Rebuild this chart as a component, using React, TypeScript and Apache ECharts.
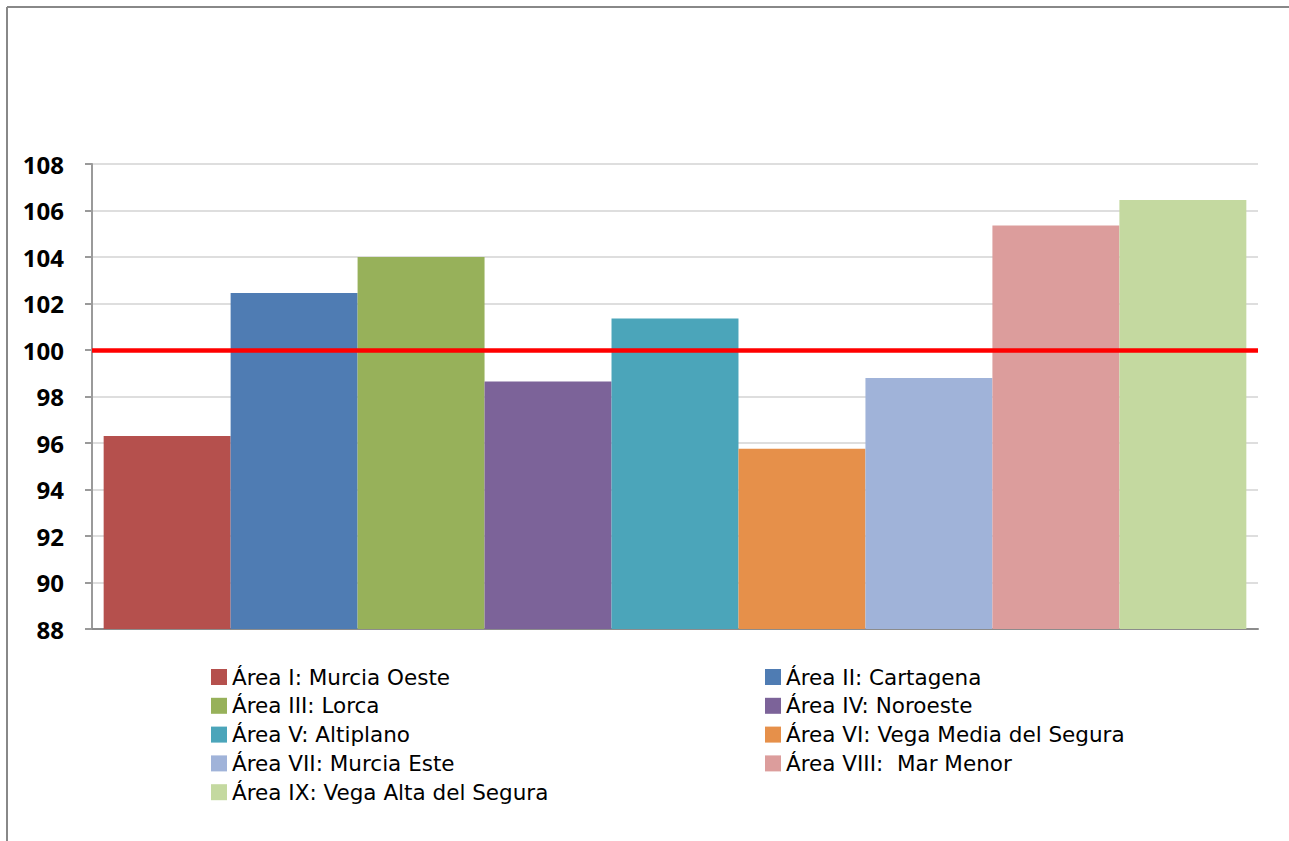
import React, { useEffect, useRef } from "react";
import * as echarts from "echarts";

const seriesNames = [
  "Área I: Murcia Oeste",
  "Área II: Cartagena",
  "Área III: Lorca",
  "Área IV: Noroeste",
  "Área V: Altiplano",
  "Área VI: Vega Media del Segura",
  "Área VII: Murcia Este",
  "Área VIII:  Mar Menor",
  "Área IX: Vega Alta del Segura",
];
const seriesValues = [96.3, 102.45, 104.0, 98.65, 101.35, 95.75, 98.8, 105.35, 106.45];
const seriesColors = [
  "#B5504D",
  "#4F7CB3",
  "#97B15A",
  "#7C6399",
  "#4BA5BA",
  "#E6904A",
  "#A0B3D9",
  "#DC9D9C",
  "#C4D9A0",
];
const categories = [""];
const referenceValue = 100;
const yMin = 88;
const yMax = 108;
const yStep = 2;

const leftLegend = [0, 2, 4, 6, 8].map((i) => seriesNames[i]);
const rightLegend = [1, 3, 5, 7].map((i) => seriesNames[i]);

export default function App() {
  const ref = useRef<HTMLDivElement>(null);
  useEffect(() => {
    if (!ref.current) return;
    const chart = echarts.init(ref.current, null, { renderer: "svg" });
    const legendCommon = {
      orient: "vertical" as const,
      padding: 0,
      itemWidth: 16,
      itemHeight: 16,
      itemGap: 6.8,
      icon: "rect",
      textStyle: {
        fontFamily: "DejaVu Sans",
        fontSize: 21.5,
        color: "#000",
        lineHeight: 20,
      },
      selectedMode: false,
    };
    chart.setOption({
      animation: false,
      backgroundColor: "#fff",
      graphic: [
        {
          type: "line",
          shape: { x1: 7, y1: 7, x2: 1289, y2: 7 },
          style: { stroke: "#888", lineWidth: 2 },
        },
        {
          type: "line",
          shape: { x1: 7, y1: 7, x2: 7, y2: 841 },
          style: { stroke: "#888", lineWidth: 2 },
        },
      ],
      legend: [
        { ...legendCommon, left: 211, top: 666, data: leftLegend },
        { ...legendCommon, left: 765, top: 666, data: rightLegend },
      ],
      grid: { left: 92, right: 31, top: 164, bottom: 212, containLabel: false },
      xAxis: {
        type: "category",
        data: categories,
        axisLabel: { show: false },
        axisTick: { show: false },
        axisLine: { lineStyle: { color: "#8c8c8c", width: 2 } },
      },
      yAxis: {
        type: "value",
        min: yMin,
        max: yMax,
        interval: yStep,
        axisLine: { show: true, lineStyle: { color: "#9a9a9a", width: 2 } },
        axisTick: { show: true, length: 7, lineStyle: { color: "#9a9a9a", width: 2 } },
        axisLabel: {
          margin: 28,
          fontFamily: "Open Sans",
          fontWeight: "bold",
          fontSize: 24,
          color: "#000",
        },
        splitLine: { lineStyle: { color: "#dedede", width: 2 } },
      },
      series: seriesNames.map((name, i) => ({
        name,
        type: "bar",
        data: [seriesValues[i]],
        itemStyle: { color: seriesColors[i] },
        barGap: "0%",
        barCategoryGap: "2%",
        ...(i === seriesNames.length - 1
          ? {
              markLine: {
                silent: true,
                symbol: "none",
                label: { show: false },
                lineStyle: { color: "#ff0000", width: 4.5, type: "solid" },
                data: [{ yAxis: referenceValue }],
              },
            }
          : {}),
      })),
    });
    return () => chart.dispose();
  }, []);
  return (
    <div
      ref={ref}
      style={{ position: "fixed", left: 0, top: 0, width: 1289, height: 841 }}
    />
  );
}
